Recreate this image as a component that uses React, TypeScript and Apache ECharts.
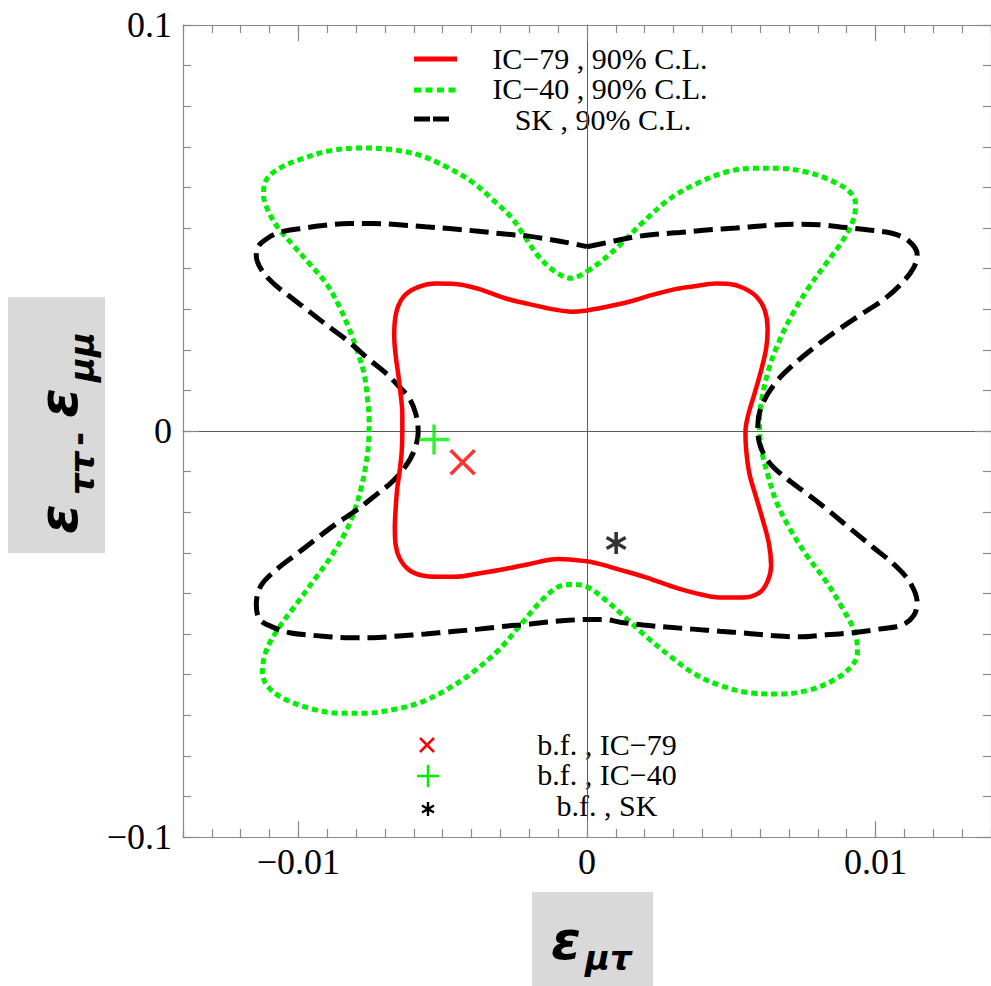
import { useEffect, useRef } from "react";
import * as echarts from "echarts";

// 90% C.L. contours in the (ε_μτ, ε_ττ − ε_μμ) plane, traced clockwise from the top middle.
const ic79Contour: [number, number][] = [
  [0, 0.0297], [0.00069, 0.0306], [0.00149, 0.0319], [0.0023, 0.0336], [0.0031, 0.035],
  [0.00379, 0.0357], [0.00448, 0.0363], [0.00494, 0.0362], [0.0054, 0.0353], [0.00586, 0.0332],
  [0.00615, 0.0299], [0.00626, 0.0252], [0.00621, 0.0204], [0.00603, 0.0148], [0.0058, 0.0091],
  [0.00557, 0.0035], [0.00549, -0.0003], [0.00552, -0.005], [0.00563, -0.0106], [0.00586, -0.0163],
  [0.00609, -0.0219], [0.0063, -0.0276], [0.00638, -0.0332], [0.00626, -0.037], [0.00598, -0.0398],
  [0.0054, -0.041], [0.0046, -0.041], [0.00379, -0.04], [0.00299, -0.0384], [0.00207, -0.0361],
  [0.00115, -0.0342], [0.00046, -0.0328], [0, -0.0321], [-0.001, -0.0315], [-0.00203, -0.0328],
  [-0.00284, -0.034], [-0.00376, -0.0351], [-0.00456, -0.0359], [-0.00514, -0.0359], [-0.00571, -0.0356],
  [-0.00617, -0.0342], [-0.00649, -0.0314], [-0.00663, -0.0281], [-0.00666, -0.0238], [-0.00663, -0.0191],
  [-0.00658, -0.0144], [-0.00649, -0.0097], [-0.00642, -0.005], [-0.0064, -0.0003], [-0.0064, 0.0044],
  [-0.00646, 0.0091], [-0.00654, 0.0139], [-0.00663, 0.0186], [-0.00668, 0.0233], [-0.00666, 0.027],
  [-0.00654, 0.0308], [-0.00629, 0.0336], [-0.00583, 0.0355], [-0.00525, 0.0363], [-0.00456, 0.0362],
  [-0.00376, 0.035], [-0.00284, 0.0327], [-0.00203, 0.0313], [-0.00111, 0.0299], [-0.00054, 0.0294],
  [0, 0.0297],
];

const ic40Contour: [number, number][] = [
  [0, 0.0393], [0.00046, 0.0416], [0.00115, 0.0459], [0.00195, 0.0515], [0.00287, 0.0572],
  [0.00379, 0.0609], [0.00483, 0.0638], [0.00575, 0.0647], [0.00667, 0.0647], [0.00759, 0.0638],
  [0.00839, 0.0619], [0.00908, 0.0591], [0.00931, 0.0558], [0.0092, 0.0515], [0.00885, 0.0468],
  [0.00828, 0.0412], [0.0077, 0.0355], [0.00713, 0.0289], [0.00667, 0.0223], [0.00632, 0.0157],
  [0.00609, 0.0091], [0.00598, 0.0026], [0.00603, -0.004], [0.00626, -0.0106], [0.00655, -0.0172],
  [0.00701, -0.0238], [0.00759, -0.0304], [0.00828, -0.037], [0.00885, -0.0436], [0.00931, -0.0502],
  [0.00937, -0.0549], [0.00908, -0.0586], [0.00851, -0.0615], [0.0077, -0.0638], [0.00667, -0.0648],
  [0.00563, -0.0645], [0.00471, -0.0629], [0.00379, -0.0601], [0.00287, -0.0554], [0.00207, -0.0507],
  [0.00126, -0.0455], [0.00057, -0.0412], [0, -0.0384], [-0.00054, -0.0378], [-0.001, -0.0384],
  [-0.00157, -0.0417], [-0.00226, -0.0474], [-0.00307, -0.054], [-0.00399, -0.0596], [-0.00479, -0.0634],
  [-0.00571, -0.0667], [-0.00663, -0.0685], [-0.00767, -0.0695], [-0.00859, -0.0695], [-0.00951, -0.0685],
  [-0.01043, -0.0662], [-0.011, -0.0634], [-0.01125, -0.0596], [-0.01111, -0.054], [-0.01066, -0.0483],
  [-0.01008, -0.0427], [-0.00939, -0.0361], [-0.00882, -0.0304], [-0.00836, -0.0248], [-0.00807, -0.02],
  [-0.00784, -0.0144], [-0.00767, -0.0087], [-0.00757, -0.0031], [-0.00755, 0.0026], [-0.00761, 0.0082],
  [-0.00772, 0.0139], [-0.00795, 0.0195], [-0.00824, 0.0251], [-0.00859, 0.0308], [-0.00905, 0.0365],
  [-0.00962, 0.0412], [-0.0102, 0.0459], [-0.01071, 0.0501], [-0.01106, 0.0544], [-0.01121, 0.0581],
  [-0.01111, 0.0619], [-0.01066, 0.0647], [-0.00985, 0.0671], [-0.00893, 0.069], [-0.0079, 0.0697],
  [-0.00686, 0.0694], [-0.00583, 0.068], [-0.00491, 0.0652], [-0.00399, 0.0614], [-0.0033, 0.0572],
  [-0.00261, 0.0525], [-0.00215, 0.0478], [-0.00169, 0.0431], [-0.00111, 0.0393], [-0.00054, 0.0376],
  [0, 0.0393],
];

const skContour: [number, number][] = [
  [0, 0.0454], [0.00069, 0.0464], [0.00149, 0.0476], [0.0023, 0.0484], [0.00322, 0.0489],
  [0.00414, 0.0495], [0.00517, 0.05], [0.00621, 0.0506], [0.00713, 0.0509], [0.00805, 0.0508],
  [0.00897, 0.0501], [0.00977, 0.0495], [0.01057, 0.0487], [0.01115, 0.0468], [0.01144, 0.0435],
  [0.01132, 0.0402], [0.01092, 0.0365], [0.01034, 0.0327], [0.00954, 0.0289], [0.00874, 0.0251],
  [0.00793, 0.0209], [0.00713, 0.0162], [0.00655, 0.012], [0.00609, 0.0068], [0.00592, 0.0016],
  [0.00598, -0.0031], [0.00632, -0.0078], [0.0069, -0.0116], [0.00759, -0.0153], [0.00828, -0.0191],
  [0.00908, -0.0238], [0.00989, -0.0285], [0.01069, -0.0332], [0.01121, -0.0375], [0.01144, -0.0422],
  [0.01132, -0.0455], [0.01092, -0.0478], [0.01011, -0.0488], [0.0092, -0.0497], [0.00828, -0.0502],
  [0.00736, -0.0507], [0.00644, -0.0504], [0.00552, -0.0498], [0.0046, -0.0493], [0.00368, -0.0488],
  [0.00276, -0.0483], [0.00195, -0.0478], [0.00115, -0.0471], [0.00057, -0.0464], [0, -0.0464],
  [-0.00077, -0.0467], [-0.00146, -0.0471], [-0.00203, -0.0476], [-0.00284, -0.0481], [-0.00376, -0.0488],
  [-0.00468, -0.0494], [-0.0056, -0.05], [-0.00652, -0.0505], [-0.00744, -0.0509], [-0.00836, -0.0509],
  [-0.00939, -0.0504], [-0.01031, -0.0497], [-0.01089, -0.0483], [-0.01134, -0.0464], [-0.01146, -0.0427],
  [-0.01129, -0.038], [-0.01077, -0.0342], [-0.01008, -0.0304], [-0.00939, -0.0266], [-0.0087, -0.0229],
  [-0.00801, -0.0196], [-0.00732, -0.0158], [-0.00675, -0.0125], [-0.00629, -0.0087], [-0.006, -0.005],
  [-0.00585, -0.0003], [-0.00594, 0.0044], [-0.00617, 0.0082], [-0.00652, 0.011], [-0.00698, 0.0143],
  [-0.00755, 0.0176], [-0.00824, 0.0219], [-0.00893, 0.0256], [-0.00962, 0.0294], [-0.01031, 0.0332],
  [-0.01089, 0.0365], [-0.01129, 0.0398], [-0.01146, 0.0431], [-0.0114, 0.0454], [-0.01111, 0.0473],
  [-0.01066, 0.0489], [-0.00997, 0.0498], [-0.00916, 0.0506], [-0.00824, 0.0511], [-0.00744, 0.0511],
  [-0.00652, 0.0508], [-0.0056, 0.0503], [-0.00468, 0.0498], [-0.00376, 0.0492], [-0.00284, 0.0485],
  [-0.00203, 0.048], [-0.00123, 0.0471], [-0.00054, 0.0462], [0, 0.0454],
];

// Best-fit points
const bestFitIC79: [number, number][] = [[-0.00431, -0.0077]];
const bestFitIC40: [number, number][] = [[-0.0053, -0.0021]];
const bestFitSK: [number, number][] = [[0.00101, -0.0276]];

// Axis ticks and labels
const xMajorTicks = [-0.01, 0, 0.01];
const yMajorTicks = [-0.1, 0, 0.1];
const xRange = [-0.014, 0.014];
const yRange = [-0.1, 0.1];
const xMinorStep = 0.001;
const yMinorStep = 0.01;

const contourLegend = ["IC\u221279 , 90% C.L.", "IC\u221240 , 90% C.L.", "SK , 90% C.L."];
const pointLegend = ["b.f. , IC\u221279", "b.f. , IC\u221240", "b.f. , SK"];

const RED = "#ff0000";
const GREEN = "#00ee00";
const BLACK = "#000000";
const FRAME = "#8a8a8a";
const SERIF = '"Liberation Serif", "DejaVu Serif", serif';
const SANS = '"DejaVu Sans", "Noto Sans", sans-serif';

const stepTicks = (lo: number, hi: number, step: number) => {
  const n = Math.round((hi - lo) / step);
  const out: number[] = [];
  for (let i = 0; i <= n; i++) out.push(Math.round((lo + i * step) * 1e6) / 1e6);
  return out;
};

const fmt = (v: number) => {
  if (Math.abs(v) < 1e-12) return "0";
  return (v < 0 ? "\u2212" : "") + String(Math.abs(v));
};

const CROSS_PATH = "path://M0,0L10,10M10,0L0,10";
const PLUS_PATH = "path://M5,0L5,10M0,5L10,5";
const STAR_PATH = "path://M5,0L5,10M0.67,2.5L9.33,7.5M0.67,7.5L9.33,2.5";

export default function App() {
  const ref = useRef<HTMLDivElement>(null);

  useEffect(() => {
    if (!ref.current) return;
    const chart = echarts.init(ref.current, null, { renderer: "svg" });

    const xMinor = stepTicks(xRange[0], xRange[1], xMinorStep);
    const yMinor = stepTicks(yRange[0], yRange[1], yMinorStep);

    const baseX = {
      type: "value" as const,
      min: xRange[0],
      max: xRange[1],
      splitLine: { show: false },
      axisLabel: { show: false },
    };
    const baseY = {
      type: "value" as const,
      min: yRange[0],
      max: yRange[1],
      splitLine: { show: false },
      axisLabel: { show: false },
    };
    const frameLine = { show: true, onZero: false, lineStyle: { color: FRAME, width: 1.2 } };
    const noLine = { show: false, onZero: false };
    const tick = (values: number[], length: number) => ({
      show: true,
      inside: true,
      length,
      customValues: values,
      lineStyle: { color: FRAME, width: 1.2 },
    });

    const lineSeries = (name: string, data: [number, number][], color: string, width: number, dash: number[] | "solid") => ({
      name,
      type: "line" as const,
      data,
      xAxisIndex: 0,
      yAxisIndex: 0,
      showSymbol: false,
      symbol: "none",
      smooth: 0.35,
      lineStyle: { color, width, type: dash, cap: "butt" },
      z: 3,
      silent: true,
    });

    const markerSeries = (name: string, data: [number, number][], path: string, size: number, color: string, width: number) => ({
      name,
      type: "scatter" as const,
      data,
      xAxisIndex: 0,
      yAxisIndex: 0,
      symbol: path,
      symbolSize: size,
      symbolKeepAspect: true,
      itemStyle: { color: "transparent", borderColor: color, borderWidth: width },
      z: 5,
      silent: true,
    });

    const text = (x: number, y: number, t: string, size: number) => ({
      type: "text",
      x,
      y,
      style: {
        text: t,
        fill: "#000",
        fontFamily: SERIF,
        fontSize: size,
        align: "center",
        verticalAlign: "middle",
      },
    });

    const seg = (x1: number, y1: number, x2: number, y2: number, stroke: string, lineWidth: number, lineDash?: number[]) => ({
      type: "line",
      shape: { x1, y1, x2, y2 },
      style: { stroke, lineWidth, lineDash, lineCap: "butt" },
    });

    const greek = (x: number, y: number, t: string, size: number, italic = true) => ({
      type: "text",
      x,
      y,
      style: {
        text: t,
        fill: "#000",
        fontFamily: SANS,
        fontWeight: "bold",
        fontStyle: italic ? "italic" : "normal",
        fontSize: size,
        align: "left",
        verticalAlign: "middle",
      },
    });

    chart.setOption({
      animation: false,
      backgroundColor: "#ffffff",
      textStyle: { fontFamily: SERIF },
      grid: { left: 183, top: 25, width: 812, height: 812, containLabel: false },
      xAxis: [
        {
          ...baseX,
          position: "bottom",
          axisLine: frameLine,
          axisTick: tick(xMajorTicks, 16),
          axisLabel: {
            show: true,
            customValues: xMajorTicks,
            formatter: fmt,
            color: "#000",
            fontFamily: SERIF,
            fontSize: 36,
            margin: 7,
          },
        },
        { ...baseX, position: "bottom", axisLine: noLine, axisTick: tick(xMinor, 8) },
        { ...baseX, position: "top", axisLine: frameLine, axisTick: tick(xMajorTicks, 16) },
        { ...baseX, position: "top", axisLine: noLine, axisTick: tick(xMinor, 8) },
        {
          ...baseX,
          position: "bottom",
          axisLine: { show: true, onZero: true, lineStyle: { color: "#5a5a5a", width: 1 } },
          axisTick: { show: false },
        },
      ],
      yAxis: [
        {
          ...baseY,
          position: "left",
          axisLine: frameLine,
          axisTick: tick(yMajorTicks, 16),
          axisLabel: {
            show: true,
            customValues: yMajorTicks,
            formatter: fmt,
            color: "#000",
            fontFamily: SERIF,
            fontSize: 36,
            margin: 11,
          },
        },
        { ...baseY, position: "left", axisLine: noLine, axisTick: tick(yMinor, 8) },
        { ...baseY, position: "right", axisLine: frameLine, axisTick: tick(yMajorTicks, 16) },
        { ...baseY, position: "right", axisLine: noLine, axisTick: tick(yMinor, 8) },
        {
          ...baseY,
          position: "left",
          axisLine: { show: true, onZero: true, lineStyle: { color: "#5a5a5a", width: 1 } },
          axisTick: { show: false },
        },
      ],
      series: [
        lineSeries("IC-40", ic40Contour, GREEN, 5, [6, 4]),
        lineSeries("SK", skContour, BLACK, 5, [19, 8]),
        lineSeries("IC-79", ic79Contour, RED, 4.5, "solid"),
        markerSeries("b.f. IC-79", bestFitIC79, CROSS_PATH, 24, RED, 3.5),
        markerSeries("b.f. IC-40", bestFitIC40, PLUS_PATH, 30, GREEN, 3.5),
        markerSeries("b.f. SK", bestFitSK, STAR_PATH, 22, BLACK, 3.6),
      ],
      graphic: [
        // contour legend
        seg(414, 59, 457, 59, RED, 5),
        seg(414, 90, 457, 90, GREEN, 5, [7, 4.5]),
        seg(414, 119, 449, 119, BLACK, 5, [16, 3]),
        text(600, 58, contourLegend[0], 30),
        text(600, 88.5, contourLegend[1], 30),
        text(603, 119, contourLegend[2], 30),
        // best-fit legend
        seg(420, 738, 434, 752, RED, 2.5),
        seg(434, 738, 420, 752, RED, 2.5),
        seg(417, 776, 439, 776, GREEN, 2.5),
        seg(428, 765, 428, 787, GREEN, 2.5),
        seg(428, 802, 428, 816, BLACK, 2.4),
        seg(422, 805.5, 434, 812.5, BLACK, 2.4),
        seg(422, 812.5, 434, 805.5, BLACK, 2.4),
        text(607, 744, pointLegend[0], 30),
        text(607, 774.5, pointLegend[1], 30),
        text(607, 805.5, pointLegend[2], 30),
        // y-axis title
        { type: "rect", shape: { x: 8, y: 297, width: 97, height: 256 }, style: { fill: "#d9d9d9" } },
        {
          type: "group",
          x: 58,
          y: 534,
          rotation: Math.PI / 2,
          children: [
            greek(0, 0, "\u03b5", 54),
            greek(39, 24, "\u03c4\u03c4", 34),
            greek(88, 20, "-", 34, false),
            greek(116, 0, "\u03b5", 54),
            greek(152, 24, "\u03bc\u03bc", 34),
          ],
        },
        // x-axis title
        { type: "rect", shape: { x: 532, y: 892, width: 121, height: 94 }, style: { fill: "#d9d9d9" } },
        greek(551, 940, "\u03b5", 54),
        greek(585, 958, "\u03bc\u03c4", 34),
      ],
    } as any);

    return () => chart.dispose();
  }, []);

  return (
    <div
      ref={ref}
      style={{ position: "fixed", left: 0, top: 0, width: 991, height: 986, background: "#fff" }}
    />
  );
}
